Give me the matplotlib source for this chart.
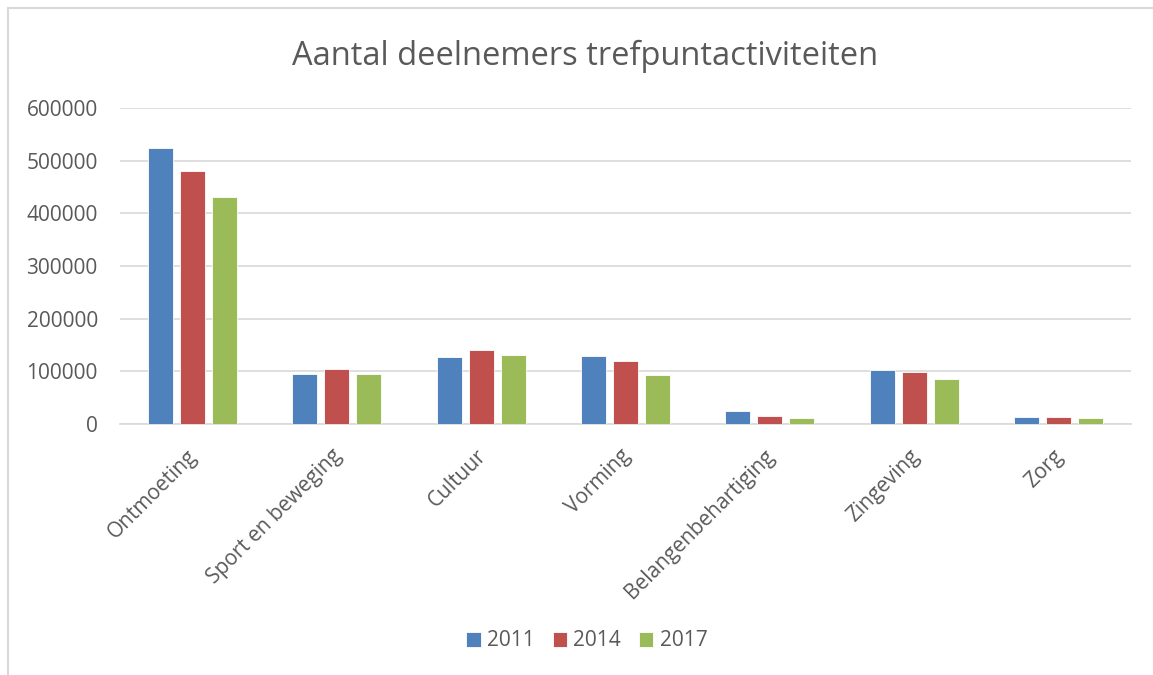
import matplotlib.pyplot as plt
from matplotlib.patches import Rectangle
import numpy as np

categories = ["Ontmoeting", "Sport en beweging", "Cultuur", "Vorming",
              "Belangenbehartiging", "Zingeving", "Zorg"]
years = ["2011", "2014", "2017"]
v2011 = [525000, 94500, 127000, 129000, 24700, 102500, 13300]
v2014 = [481000, 104000, 140500, 119500, 15800, 99300, 13300]
v2017 = [431000, 95000, 131000, 93000, 10800, 84900, 10800]
yticks = [0, 100000, 200000, 300000, 400000, 500000, 600000]

colors = ["#4f81bd", "#c0504d", "#9bbb59"]
text_color = "#595959"

plt.rcParams["font.family"] = ["Open Sans", "DejaVu Sans"]

fig = plt.figure(figsize=(11.53, 6.75), dpi=100)
ax = fig.add_axes([120 / 1153, 1 - 424 / 675, 1011 / 1153, 316 / 675])

# chart area border (cut off at right and bottom, like the screenshot)
fig.patches.append(Rectangle((8 / 1153, -0.01), 1.2, 1 - 8 / 675 + 0.01,
                             transform=fig.transFigure, fill=False,
                             edgecolor="#d9d9d9", linewidth=1.5))

x = np.arange(len(categories))
width = 0.173
step = 0.222
for i, (vals, col, yr) in enumerate(zip([v2011, v2014, v2017], colors, years)):
    ax.bar(x + (i - 1) * step, vals, width, color=col, label=yr,
           edgecolor="white", linewidth=0.6, zorder=3)

ax.set_xlim(-0.5, len(categories) - 0.5)
ax.set_ylim(0, 600000)
ax.set_yticks(yticks)
ax.set_yticklabels([str(t) for t in yticks])
ax.yaxis.grid(True, color="#d9d9d9", linewidth=1.2, zorder=0)
ax.set_axisbelow(True)
for s in ["top", "right", "left"]:
    ax.spines[s].set_visible(False)
ax.spines["bottom"].set_color("#d9d9d9")
ax.spines["bottom"].set_linewidth(1.2)
ax.tick_params(axis="both", length=0, labelsize=15, colors=text_color)
ax.tick_params(axis="y", pad=16)

ax.set_xticks(x - 0.04)
ax.set_xticklabels(categories, rotation=45, ha="right", va="top",
                   rotation_mode="anchor")
ax.tick_params(axis="x", pad=15.5)

fig.text(0.507, 1 - 56 / 675, "Aantal deelnemers trefpuntactiviteiten",
         ha="center", va="center", fontsize=23.5, color=text_color)

leg = fig.legend(loc="center", bbox_to_anchor=(0.509, 1 - 641 / 675), ncol=3,
                 frameon=False, fontsize=15, handlelength=0.7,
                 handleheight=0.7, handletextpad=0.3, columnspacing=0.85)
for t in leg.get_texts():
    t.set_color(text_color)

plt.savefig("out.png", dpi=100)
